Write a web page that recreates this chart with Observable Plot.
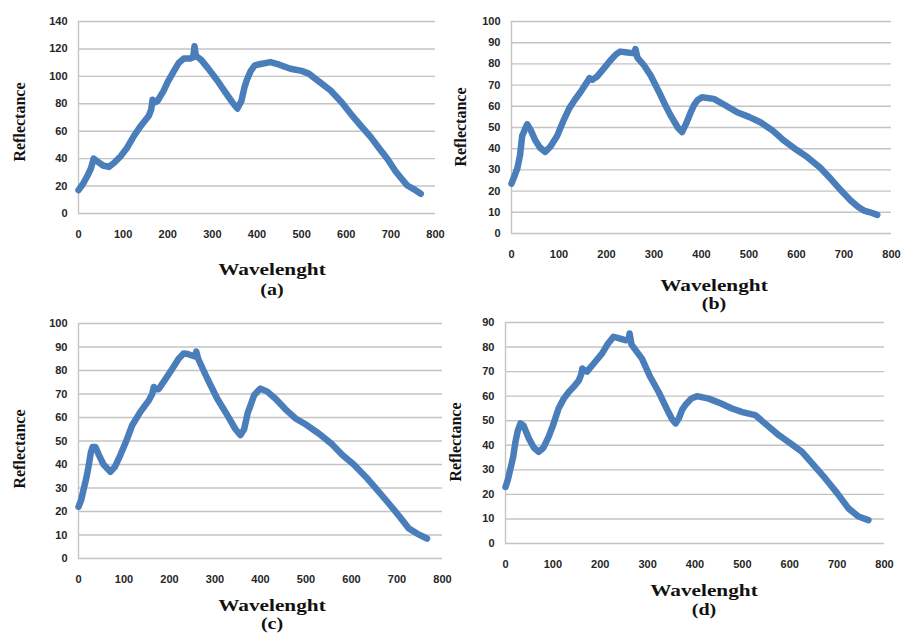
<!DOCTYPE html>
<html>
<head>
<meta charset="utf-8">
<script src="https://cdn.jsdelivr.net/npm/d3@7"></script>
<script src="https://cdn.jsdelivr.net/npm/@observablehq/plot@0.6"></script>
<style>
  html, body { margin: 0; padding: 0; background: #fff; }
  #root { position: relative; width: 902px; height: 633px; background: #fff; overflow: hidden; }
  .panel { position: absolute; }
  .lbl { position: absolute; font-family: "Liberation Serif", "Times New Roman", serif; font-weight: bold; color: #111; white-space: nowrap; }
  .xt { font-size: 17px; transform: translate(-50%, -50%) scaleX(1.25); }
  .cap { font-size: 16px; transform: translate(-50%, -50%) scaleX(1.25); }
  .yt { font-size: 16px; transform: translate(-50%, -50%) rotate(-90deg); }
</style>
</head>
<body>
<div id="root"></div>
<script>
// ---- data (wavelength index, reflectance) ----
const waveA = [0,10,20,28,34,42,55,68,80,95,109,125,140,158,163,166,171,177,190,200,214,225,236,250,257,260,263,275,290,311,330,345,356,365,372,378,386,395,408,430,450,475,500,516,540,565,590,610,630,655,675,692,710,725,737,750,767];
const reflA = [17,21.5,27.5,33,40,38,35,34,37,42,48,57,64,71.5,76,83,81,82,89,96,104,110,113,113,114,122,115,112,106,97,88,81,76.5,82,92,98,104,108,109,110.4,108.5,105.5,104,102,96,89.7,81,72.7,65,55.7,47,39.9,31,25,20.4,18,14.4];

const waveB = [0,6,12,18,22.5,28,33,40,50,60,71,82,96,108,121,133,145,159,164,170,180,195,208,220,229,240,250,258,261,265,280,293,310,325,335,350,359,368,377,384,392,401,426,450,475,500,524,550,573,600,623,650,672,695,714,730,742,755,770];
const reflB = [23.5,27,30.5,37,46,49,51.5,49,44,40.5,38.5,41,46,52.5,58.8,63,66.6,71.4,73.3,72.5,74,78,81.6,84.5,85.8,85.5,85.2,85,87,83,79,74.5,67,60,55.7,50,47.8,52,57,60.4,63,64.3,63.5,60.5,57.2,55,52.5,48.5,43.9,39.5,36,31,25.8,20,15.6,12.5,10.8,10,8.8];

const waveC = [0,6,11.7,17,22.6,27,31,37,45,55,70,80,92,105,118,136,155,162,165.5,170,176,190,209,220,231,240,249,256,259,263,283,305,327,345,356,364,372,378,386,396,400,415,433,455,477,500,528,555,580,605,631,655,682,705,726,745,766];
const reflC = [22,25,29.8,34,39.7,45,47.5,47.5,44,40,36.9,39,44,50,56.7,62.4,67.4,70,73,72,72,76,81.6,85,87.2,87,86.4,86,88,85,76.6,68,61,55,52.5,55,62,65.2,69.5,71.6,72.3,71,68,63.5,59.6,57,53.2,49,44,40,34.8,29.5,23.4,18,12.8,10.5,8.5];

const waveD = [0,5,10.5,16,21,26,31.6,38,50,60,70,80,91,100,112,123,134,145,155,160,162,167,172,185,204,215,228,240,253,260,262,266,288,305,323,340,352,359,366,373,380,392,404,429,455,478,500,527,550,577,600,626,650,675,700,724,745,766];
const reflD = [23,26,30.5,35,41.4,46,48.9,48,42.5,39,37.3,39,43.4,48,55,59,61.8,64,66.5,69,71.3,70.5,70,73,77.4,81,84.2,83.5,82.8,83,85.5,81,75.3,68,61.8,55,50.5,48.9,51,54.5,56.5,59,60,59,57,55,53.5,52.3,48.5,44.1,41,37.3,32,26.5,20.5,14.3,11,9.5];

const xTicks = [0,100,200,300,400,500,600,700,800];
const yTicksA = [0,20,40,60,80,100,120,140];
const yTicksB = [0,10,20,30,40,50,60,70,80,90,100];
const yTicksC = [0,10,20,30,40,50,60,70,80,90,100];
const yTicksD = [0,10,20,30,40,50,60,70,80,90];

const xTitle = "Wavelenght";
const yTitle = "Reflectance";
const captions = ["(a)", "(b)", "(c)", "(d)"];

const root = document.getElementById("root");

function panel(wave, refl, yTicks, box, labels) {
  const data = wave.map((w, i) => ({w, r: refl[i]}));
  const yMax = yTicks[yTicks.length - 1];
  const chart = Plot.plot({
    width: box.width,
    height: box.height,
    marginLeft: box.ml,
    marginRight: box.mr,
    marginTop: box.mt,
    marginBottom: box.mb,
    style: {fontFamily: "Arial, 'Liberation Sans', sans-serif", fontSize: "11px", fontWeight: "bold", color: "#262626", background: "transparent"},
    x: {domain: [0, 800], ticks: xTicks, label: null},
    y: {domain: [0, yMax], ticks: yTicks, label: null},
    marks: [
      Plot.ruleY(yTicks, {stroke: "#c4c4c4", strokeWidth: 1.4}),
      Plot.ruleX([0], {stroke: "#c4c4c4", strokeWidth: 1.4}),
      Plot.axisX({ticks: xTicks, tickSize: 0, tickPadding: 17, label: null}),
      Plot.axisY({ticks: yTicks, tickSize: 0, tickPadding: 11, label: null}),
      Plot.line(data, {x: "w", y: "r", stroke: "#4a7ebb", strokeWidth: 6.5, strokeLinejoin: "round", strokeLinecap: "round"})
    ]
  });
  const holder = document.createElement("div");
  holder.className = "panel";
  holder.style.left = box.left + "px";
  holder.style.top = box.top + "px";
  holder.appendChild(chart);
  root.appendChild(holder);

  const add = (cls, text, x, y) => {
    const d = document.createElement("div");
    d.className = "lbl " + cls;
    d.textContent = text;
    d.style.left = x + "px";
    d.style.top = y + "px";
    root.appendChild(d);
  };
  add("xt", xTitle, labels.xt[0], labels.xt[1]);
  add("cap", labels.cap, labels.cp[0], labels.cp[1]);
  add("yt", yTitle, labels.yt[0], labels.yt[1]);
}

panel(waveA, reflA, yTicksA,
  {left: 0, top: 0, width: 450, height: 250, ml: 78, mr: 15, mt: 21, mb: 37},
  {xt: [272, 270], cap: captions[0], cp: [272, 290], yt: [20, 122]});
panel(waveB, reflB, yTicksB,
  {left: 450, top: 0, width: 452, height: 270, ml: 61, mr: 11, mt: 21, mb: 37},
  {xt: [714, 286], cap: captions[1], cp: [714, 304], yt: [461, 127]});
panel(waveC, reflC, yTicksC,
  {left: 0, top: 310, width: 456, height: 280, ml: 78, mr: 14, mt: 13, mb: 32},
  {xt: [272, 606], cap: captions[2], cp: [272, 624], yt: [20, 449]});
panel(waveD, reflD, yTicksD,
  {left: 440, top: 315, width: 462, height: 260, ml: 65, mr: 18, mt: 7, mb: 32},
  {xt: [704, 591], cap: captions[3], cp: [704, 610], yt: [456, 442]});
</script>
</body>
</html>
